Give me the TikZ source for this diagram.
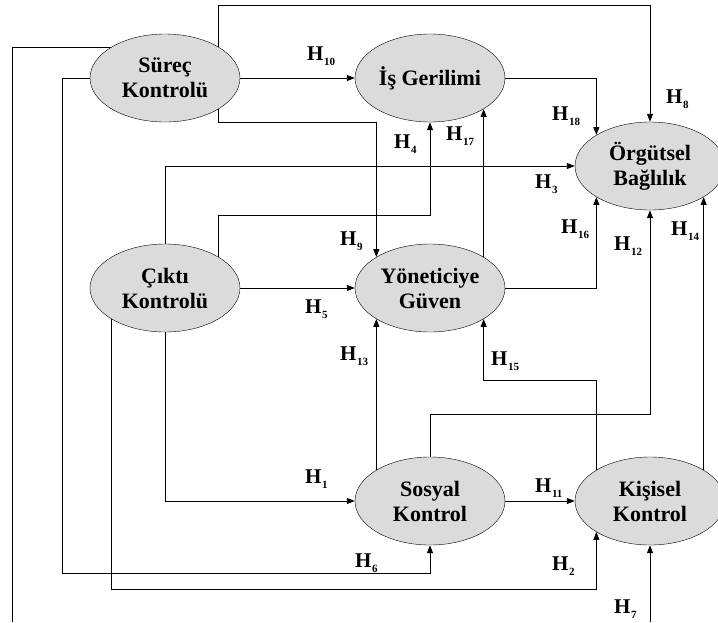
\documentclass[tikz,border=0pt]{standalone}
\usepackage{fontspec}
\setmainfont{Liberation Serif}
\usepackage{tikz}
\usetikzlibrary{arrows.meta,shapes.geometric}

\newcommand{\hlab}[1]{H\kern0.5pt\raisebox{-5pt}{\fontsize{11}{11}\selectfont#1}}

\begin{document}
\begin{tikzpicture}[x=1pt, y=-1pt,
    kavram/.style={ellipse, draw, thin, fill=black!14, inner sep=0pt,
        minimum width=150pt, minimum height=88pt, align=center,
        font=\fontsize{22}{25}\selectfont\bfseries},
    arr/.style={-{Triangle[length=8pt,width=6pt]}, line width=0.9pt},
    hyp/.style={anchor=base west, inner sep=0pt, font=\fontsize{21}{21}\selectfont\bfseries}]
                \useasboundingbox (0,0) rectangle (718,622);

                \node[kavram] (sur) at (165,78) {Süreç\\Kontrolü};
                \node[kavram] (cik) at (165,288) {Çıktı\\Kontrolü};
                \node[kavram] (ise) at (430,78) {İş Gerilimi};
                \node[kavram] (yon) at (430,288) {Yöneticiye\\Güven};
                \node[kavram] (sos) at (430,501) {Sosyal\\Kontrol};
                \node[kavram] (org) at (650,166) {Örgütsel\\Bağlılık};
                \node[kavram] (kis) at (650,501) {Kişisel\\Kontrol};

                \coordinate (top) at (0,5);
                \coordinate (r9) at (0,122);
                \coordinate (r4) at (0,215);
                \coordinate (r15) at (0,380);
                \coordinate (r12) at (0,414);
                \coordinate (r6) at (62,573);
                \coordinate (r2) at (0,589);
                \coordinate (bot) at (0,622);
                \coordinate (lft) at (12,622);

                \draw[line width=0.9pt] (sur.150) -| (lft);
                \draw[arr] (sur.30) -- (sur.30 |- top) -| (org.north);
                \draw[arr] (sur.east) -- (ise.west);
                \draw[arr] (sur.-30) -- (sur.-30 |- r9) -| (yon.150);
                \draw[arr] (sur.west) -| (r6) -| (sos.south);
                \draw[arr] (cik.north) |- (org.west);
                \draw[arr] (cik.30) -- (cik.30 |- r4) -| (ise.south);
                \draw[arr] (cik.east) -- (yon.west);
                \draw[arr] (cik.south) |- (sos.west);
                \draw[arr] (cik.-150) -- (cik.-150 |- r2) -| (kis.-150);
                \draw[arr] (ise.east) -| (org.150);
                \draw[arr] (yon.30) -- (ise.-30);
                \draw[arr] (yon.east) -| (org.-150);
                \draw[arr] (sos.150) -- (yon.-150);
                \draw[arr] (sos.east) -- (kis.west);
                \draw[arr] (sos.north) -- (sos.north |- r12) -| (org.south);
                \draw[arr] (kis.150) -- (kis.150 |- r15) -| (yon.-30);
                \draw[arr] (kis.30) -- (org.-30);
                \draw[arr] (kis.south |- bot) -- (kis.south);

                \node[hyp] (h1) at (305,483) {\hlab{1}};
                \node[hyp] (h2) at (552,570) {\hlab{2}};
                \node[hyp] (h3) at (535,188) {\hlab{3}};
                \node[hyp] (h4) at (394,148) {\hlab{4}};
                \node[hyp] (h5) at (305,313) {\hlab{5}};
                \node[hyp] (h6) at (355,567) {\hlab{6}};
                \node[hyp] (h7) at (614,613) {\hlab{7}};
                \node[hyp] (h8) at (666,103) {\hlab{8}};
                \node[hyp] (h9) at (340,245) {\hlab{9}};
                \node[hyp] (h10) at (307,60) {\hlab{10}};
                \node[hyp] (h11) at (535,492) {\hlab{11}};
                \node[hyp] (h12) at (614,250) {\hlab{12}};
                \node[hyp] (h13) at (340,360) {\hlab{13}};
                \node[hyp] (h14) at (671,235) {\hlab{14}};
                \node[hyp] (h15) at (491,365) {\hlab{15}};
                \node[hyp] (h16) at (561,233) {\hlab{16}};
                \node[hyp] (h17) at (446,140) {\hlab{17}};
                \node[hyp] (h18) at (552,120) {\hlab{18}};
            \end{tikzpicture}
\end{document}
